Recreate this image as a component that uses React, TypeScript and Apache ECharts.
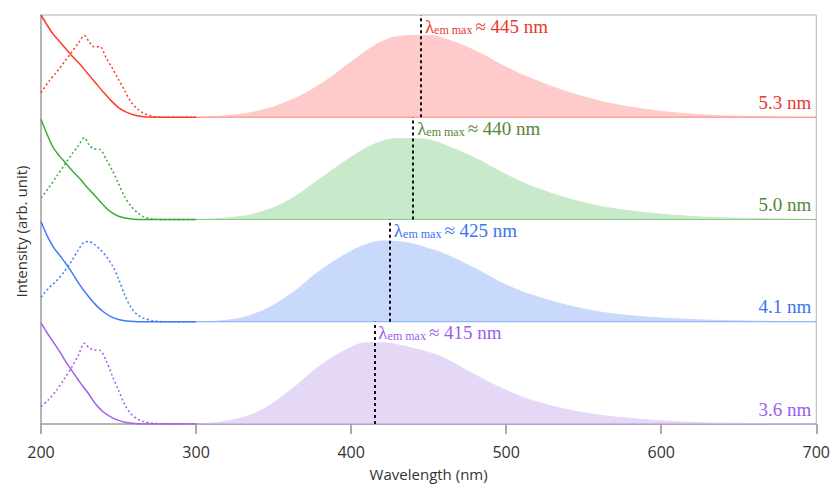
import React, { useEffect, useRef } from "react";
import * as echarts from "echarts";

// Wavelength grids (nm)
const ABS_NM = [200, 204, 208, 212, 216, 220, 225, 230, 235, 240, 245, 250, 255, 260, 265, 270, 280, 300];
const EXC_NM = [200, 205, 210, 215, 220, 224, 228, 231, 234, 238, 242, 246, 250, 254, 258, 262, 266, 272, 280, 300];
const EM_NM = [300, 320, 340, 360, 380, 400, 410, 420, 430, 440, 450, 460, 480, 500, 520, 550, 580, 620, 660, 700];

// Absorption (solid)
const ABS_53 = [1.0, 0.9, 0.81, 0.74, 0.67, 0.6, 0.52, 0.43, 0.34, 0.25, 0.165, 0.095, 0.05, 0.022, 0.008, 0.002, 0, 0];
const ABS_50 = [0.98, 0.83, 0.7, 0.62, 0.55, 0.48, 0.4, 0.31, 0.23, 0.145, 0.075, 0.032, 0.012, 0.003, 0, 0, 0, 0];
const ABS_41 = [0.98, 0.84, 0.73, 0.65, 0.57, 0.48, 0.36, 0.26, 0.17, 0.1, 0.05, 0.022, 0.008, 0.002, 0, 0, 0, 0];
const ABS_36 = [0.99, 0.89, 0.8, 0.71, 0.61, 0.52, 0.41, 0.31, 0.2, 0.12, 0.07, 0.035, 0.014, 0.005, 0.001, 0, 0, 0];

// Excitation (dotted)
const EXC_53 = [0.24, 0.35, 0.44, 0.54, 0.64, 0.725, 0.8, 0.74, 0.69, 0.69, 0.58, 0.48, 0.37, 0.26, 0.15, 0.085, 0.04, 0.01, 0, 0];
const EXC_50 = [0.21, 0.31, 0.42, 0.53, 0.64, 0.72, 0.8, 0.73, 0.69, 0.685, 0.59, 0.48, 0.35, 0.22, 0.13, 0.07, 0.028, 0.005, 0, 0];
const EXC_41 = [0.24, 0.33, 0.4, 0.49, 0.6, 0.7, 0.78, 0.785, 0.76, 0.71, 0.64, 0.55, 0.42, 0.26, 0.14, 0.07, 0.035, 0.01, 0, 0];
const EXC_36 = [0.17, 0.24, 0.33, 0.44, 0.56, 0.67, 0.79, 0.745, 0.725, 0.72, 0.62, 0.47, 0.33, 0.19, 0.1, 0.05, 0.025, 0.007, 0, 0];

// Emission (filled)
const EM_53 = [0, 0.015, 0.06, 0.16, 0.32, 0.54, 0.65, 0.74, 0.79, 0.8, 0.8, 0.77, 0.65, 0.49, 0.355, 0.2, 0.1, 0.03, 0.007, 0];
const EM_50 = [0, 0.015, 0.065, 0.19, 0.4, 0.61, 0.7, 0.765, 0.79, 0.79, 0.78, 0.73, 0.6, 0.44, 0.305, 0.165, 0.085, 0.03, 0.01, 0];
const EM_41 = [0, 0.015, 0.09, 0.26, 0.5, 0.69, 0.755, 0.79, 0.785, 0.76, 0.715, 0.665, 0.52, 0.36, 0.245, 0.125, 0.06, 0.022, 0.006, 0];
const EM_36 = [0, 0.03, 0.12, 0.32, 0.57, 0.75, 0.795, 0.795, 0.775, 0.74, 0.7, 0.645, 0.48, 0.33, 0.215, 0.11, 0.055, 0.016, 0.005, 0];

const SIZES = ["5.3 nm", "5.0 nm", "4.1 nm", "3.6 nm"];
const PEAKS = [445, 440, 425, 415];
const OFFSETS = [3, 2, 1, 0];

const ABS = [ABS_53, ABS_50, ABS_41, ABS_36];
const EXC = [EXC_53, EXC_50, EXC_41, EXC_36];
const EM = [EM_53, EM_50, EM_41, EM_36];

const LINE_COLORS = ["#ff3b22", "#3cab3c", "#3d7bf7", "#a55cec"];
const FILL_COLORS = ["#ffcaca", "#c9e9cb", "#c9d9fb", "#e5d8f6"];
const TEXT_COLORS = ["#e8392b", "#55873a", "#3a72f2", "#9c5cf2"];

const SERIF = "'Liberation Serif', 'DejaVu Serif', serif";
const SANS = "'Open Sans', 'Noto Sans', sans-serif";

function pairs(xs: number[], ys: number[], off: number) {
  return xs.map((x, i) => [x, ys[i] + off]);
}

function buildSeries() {
  const series: any[] = [];
  SIZES.forEach((size, i) => {
    const off = OFFSETS[i];
    const c = LINE_COLORS[i];
    const t = TEXT_COLORS[i];
    series.push({
      type: "line",
      name: size + " emission",
      data: pairs(EM_NM, EM[i], off),
      smooth: 0.4,
      symbol: "none",
      lineStyle: { color: FILL_COLORS[i], width: 1 },
      areaStyle: { color: FILL_COLORS[i], opacity: 1, origin: off },
      z: 1,
      markLine: {
        silent: true,
        symbol: ["none", "none"],
        label: { show: false },
        lineStyle: { color: "#111", type: [3, 3], width: 2 },
        data: [[{ coord: [PEAKS[i], off] }, { coord: [PEAKS[i], off + 1] }]],
        z: 5,
      },
      markPoint: {
        silent: true,
        symbol: "circle",
        symbolSize: 0,
        data: [
          {
            coord: [PEAKS[i], off + 0.89],
            label: {
              show: true,
              position: "right",
              distance: 4,
              formatter: "{l|λ}{s|em max}{n|≈ " + PEAKS[i] + " nm}",
              rich: {
                l: { fontFamily: SERIF, fontSize: 19, color: t },
                s: { fontFamily: SERIF, fontSize: 12, color: t, verticalAlign: "bottom", padding: [7, 3, 0, 0] },
                n: { fontFamily: SERIF, fontSize: 19, color: t },
              },
            },
          },
          {
            coord: [700, off + 0.145],
            label: {
              show: true,
              position: "left",
              distance: 5,
              formatter: size,
              fontFamily: SERIF,
              fontSize: 19,
              color: t,
            },
          },
        ],
      },
    });
    series.push({
      type: "line",
      name: size + " baseline",
      data: [
        [300, off],
        [700, off],
      ],
      symbol: "none",
      lineStyle: { color: c, width: 1, opacity: 0.55 },
      z: 2,
    });
    series.push({
      type: "line",
      name: size + " excitation",
      data: pairs(EXC_NM, EXC[i], off),
      smooth: 0.3,
      symbol: "none",
      lineStyle: { color: c, width: 1.5, type: [2, 2.5] },
      z: 3,
    });
    series.push({
      type: "line",
      name: size + " absorption",
      data: pairs(ABS_NM, ABS[i], off),
      smooth: 0.3,
      symbol: "none",
      lineStyle: { color: c, width: 1.5 },
      z: 4,
    });
  });
  return series;
}

export default function App() {
  const ref = useRef<HTMLDivElement>(null);
  useEffect(() => {
    if (!ref.current) return;
    const chart = echarts.init(ref.current, undefined, { renderer: "svg" });
    chart.setOption({
      animation: false,
      backgroundColor: "#ffffff",
      grid: {
        left: 41,
        right: 15,
        top: 15,
        bottom: 56,
        show: true,
        borderColor: "#b0b0b0",
        borderWidth: 1,
        backgroundColor: "transparent",
      },
      xAxis: {
        type: "value",
        min: 200,
        max: 700,
        interval: 100,
        name: "Wavelength (nm)",
        nameLocation: "middle",
        nameGap: 42,
        nameTextStyle: { fontFamily: SANS, fontSize: 15, color: "#333" },
        axisLine: { show: true, lineStyle: { color: "#aaa", width: 1.5 } },
        axisTick: { show: true, length: 10, lineStyle: { color: "#aaa", width: 2 } },
        axisLabel: { fontFamily: SANS, fontSize: 16, color: "#333", margin: 20 },
        splitLine: { show: false },
      },
      yAxis: {
        type: "value",
        min: 0,
        max: 4,
        name: "Intensity (arb. unit)",
        nameLocation: "middle",
        nameGap: 13,
        nameTextStyle: { fontFamily: SANS, fontSize: 15, color: "#333", padding: [0, 24, 0, 0] },
        axisLine: { show: true, lineStyle: { color: "#aaa", width: 1.5 } },
        axisTick: { show: false },
        axisLabel: { show: false },
        splitLine: { show: false },
      },
      series: buildSeries(),
    });
    return () => chart.dispose();
  }, []);
  return (
    <div
      ref={ref}
      style={{ position: "absolute", left: 0, top: 0, width: 833, height: 486 }}
    />
  );
}
